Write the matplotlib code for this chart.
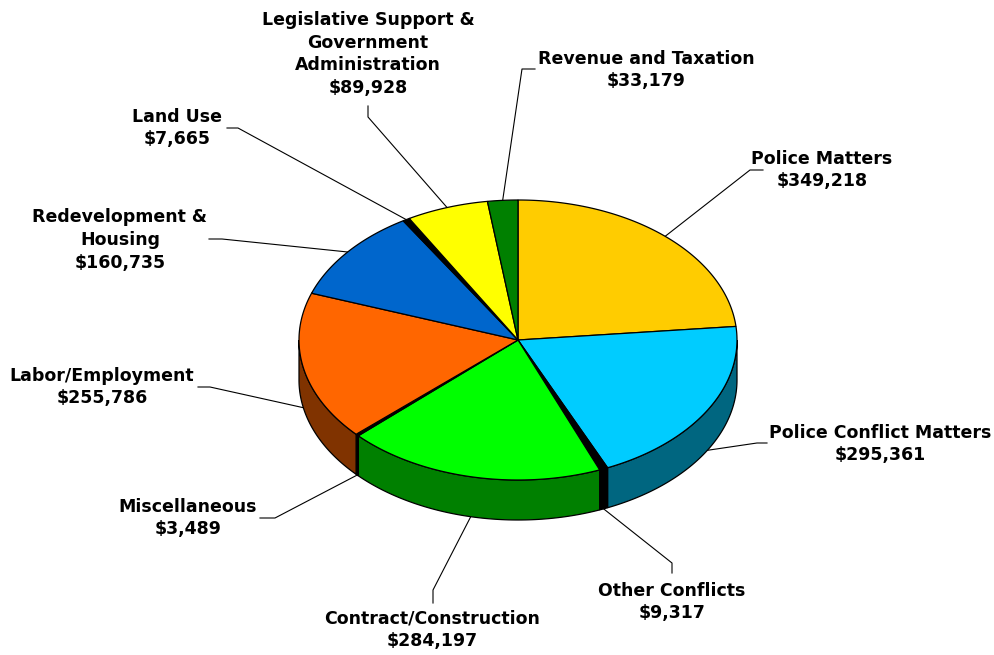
import numpy as np
import matplotlib
matplotlib.use("Agg")
import matplotlib.pyplot as plt
from matplotlib.patches import Polygon
from matplotlib.colors import to_rgb

plt.rcParams['font.family'] = ['DejaVu Sans']

# spending by matter type, clockwise from 12 o'clock
names = ["Police Matters", "Police Conflict Matters", "Other Conflicts",
         "Contract/Construction", "Miscellaneous", "Labor/Employment",
         "Redevelopment &\nHousing", "Land Use",
         "Legislative Support &\nGovernment\nAdministration", "Revenue and Taxation"]
values = [349218, 295361, 9317, 284197, 3489, 255786, 160735, 7665, 89928, 33179]
colors = ["#FFCC00", "#00CCFF", "#000000", "#00FF00", "#000000",
          "#FF6600", "#0066CC", "#000000", "#FFFF00", "#008000"]

# label layout: text centre, leader elbow, leader end (pixels)
label_xy = [(822, 170), (880, 444), (672, 602), (432, 630), (188, 518),
            (102, 387), (120, 240), (177, 128), (368, 54), (646, 70)]
elbows = [(750, 170), (757, 443), (672, 563), (433, 590), (275, 518),
          (210, 387), (222, 239), (238, 128), (368, 117), (522, 69)]
ends = [(763, 170), (767, 443), (672, 573), (433, 603), (260, 518),
        (198, 387), (209, 239), (227, 128), (368, 106), (535, 69)]

cx, cy, rx, ry, depth = 518, 340, 219, 140, 40

fig = plt.figure(figsize=(9.95, 6.55), dpi=100)
ax = fig.add_axes([0, 0, 1, 1])
ax.set_xlim(0, 995)
ax.set_ylim(655, 0)
ax.axis('off')


def ell(theta_deg, dz=0):
    t = np.radians(theta_deg)
    return np.column_stack([cx + rx * np.cos(t), cy - ry * np.sin(t) + dz])


total = float(sum(values))
angles = 360 * np.array(values) / total
starts = 90 - np.concatenate([[0], np.cumsum(angles)[:-1]])
stops = starts - angles

# side walls (front half only)
for a0, a1, c in zip(stops, starts, colors):
    side = tuple(v * 0.5 for v in to_rgb(c))
    for k in (-1, 0, 1):
        lo = max(a0, -180 + 360 * k)
        hi = min(a1, 360 * k)
        if hi <= lo:
            continue
        th = np.linspace(lo, hi, 80)
        pts = np.vstack([ell(th), ell(th[::-1], depth)])
        ax.add_patch(Polygon(pts, closed=True, facecolor=side,
                             edgecolor='black', linewidth=0.9, zorder=2))

# top surface
for a0, a1, c in zip(stops, starts, colors):
    th = np.linspace(a1, a0, 120)
    pts = np.vstack([[cx, cy], ell(th)])
    ax.add_patch(Polygon(pts, closed=True, facecolor=c,
                         edgecolor='black', linewidth=0.9, zorder=3))

# leader lines and labels
for i, (name, val) in enumerate(zip(names, values)):
    mid = (starts[i] + stops[i]) / 2
    dz = depth if np.sin(np.radians(mid)) < 0 else 0
    p = ell(mid, dz)[0]
    ex, ey = elbows[i]
    fx, fy = ends[i]
    ax.plot([p[0], ex, fx], [p[1], ey, fy], color='black', linewidth=0.8, zorder=1)
    tx, ty = label_xy[i]
    ax.text(tx, ty, f"{name}\n${val:,}", ha='center', va='center',
            fontsize=12.5, fontweight='bold', linespacing=1.35, zorder=4)

fig.savefig("out.png", dpi=100)
